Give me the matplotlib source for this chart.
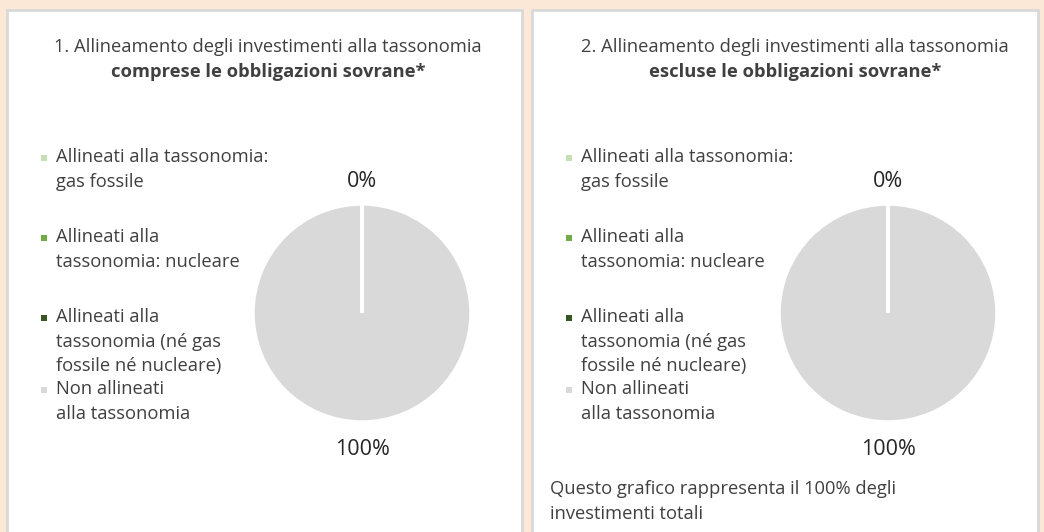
import matplotlib.pyplot as plt
from matplotlib.patches import Rectangle
import numpy as np

plt.rcParams['font.family'] = ['Open Sans', 'DejaVu Sans']

# data
categories = ["Allineati alla tassonomia:\ngas fossile",
              "Allineati alla\ntassonomia: nucleare",
              "Allineati alla\ntassonomia (né gas\nfossile né nucleare)",
              "Non allineati\nalla tassonomia"]
colors = ["#c5e0b4", "#70ad47", "#375623", "#d9d9d9"]
values_incl = [0, 0, 0, 100]
values_excl = [0, 0, 0, 100]
titles = [("1. Allineamento degli investimenti alla tassonomia", "comprese le obbligazioni sovrane*"),
          ("2. Allineamento degli investimenti alla tassonomia", "escluse le obbligazioni sovrane*")]
footer = "Questo grafico rappresenta il 100% degli\ninvestimenti totali"

W, H = 1044, 532
fig = plt.figure(figsize=(W / 100, H / 100), dpi=100)
fig.patch.set_facecolor("#fbe8d6")

def px(x, y):
    return x / W, 1 - y / H

txt_col = "#404040"
fs = 13.2
ls = 1.47

# panels
for left, right in [(7, 522), (532, 1038)]:
    fig.patches.append(Rectangle(px(left, 545), (right - left) / W, (545 - 10) / H,
                                 transform=fig.transFigure, facecolor="white",
                                 edgecolor="#d9d9d9", linewidth=2, zorder=-1))

legend_y = [159, 239, 319, 391]
panels = [(7, 268, 362, values_incl, titles[0]), (532, 795, 888, values_excl, titles[1])]

for left, tcx, pcx, vals, (t1, t2) in panels:
    fig.text(*px(tcx, 47), t1, ha="center", va="center", fontsize=fs, color=txt_col)
    fig.text(*px(tcx, 72), t2, ha="center", va="center", fontsize=fs, color=txt_col,
             fontweight="bold")

    # legend
    for lab, col, y in zip(categories, colors, legend_y):
        mx, my = px(left + 37, y - 1)
        fig.patches.append(Rectangle((mx - 3 / W, my - 3 / H), 6 / W, 6 / H,
                                     transform=fig.transFigure, facecolor=col,
                                     edgecolor="none"))
        fig.text(*px(left + 49, y - 11), lab, ha="left", va="top", fontsize=fs,
                 color=txt_col, linespacing=ls)

    # pie
    r = 109
    cx, cy = px(pcx, 313)
    ax = fig.add_axes([cx - r / W, cy - r / H, 2 * r / W, 2 * r / H])
    wedges, _ = ax.pie(vals, colors=colors, startangle=90, counterclock=False,
                       wedgeprops=dict(edgecolor="white", linewidth=2.5))
    # keep the separator of empty slices visible on top of the full slice
    for w, v in zip(wedges, vals):
        if v == 0:
            w.set_zorder(3)
    ax.set_xlim(-1, 1)
    ax.set_ylim(-1, 1)
    ax.axis("off")
    # labels: first zero slice and the full slice
    for i, rr in [(0, 1.21), (3, 1.25)]:
        w = wedges[i]
        ang = np.deg2rad((w.theta1 + w.theta2) / 2)
        ax.text(rr * np.cos(ang), rr * np.sin(ang), f"{vals[i]}%", ha="center",
                va="center", fontsize=15.5, color="#262626")

fig.text(*px(550, 480), footer, ha="left", va="top", fontsize=fs, color=txt_col,
         linespacing=1.52)

fig.savefig("out.png", dpi=100, facecolor=fig.get_facecolor())
